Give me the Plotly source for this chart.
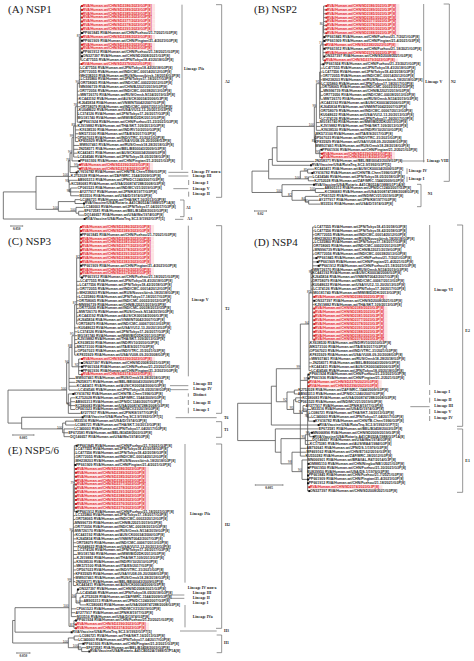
import plotly.graph_objects as go

# ---------- strain names (approximate where blurred) ----------
RED_STRAINS = ["SD2386", "SD2389", "SD2385", "SD2381", "SD2377", "SD2378", "SD2391", "SD2388",
               "SD2383", "SD2376", "SD2379", "SD2390", "SD2374", "SD2392"]
MARKED_STRAINS = ["PP661845 CHN/Fuzhou/21-7/2021", "PP661909 CHN/Pingtan/21-4/2021",
                  "PP661912 CHN/Fuzhou/21-18/2021", "ON327397 CHN/SD2008/2021",
                  "PP661924 CHN/Fuzhou/21-23/2021", "PP661936 CHN/Pingtan/21-2/2021",
                  "KY616782 CHN/TB-Chen/1996", "MN066896 CHN/SD2009/2019",
                  "OM885110 CHN/Ningbo/NB1/2021", "PP661950 CHN/Fuzhou/21-30/2021"]
REF_STRAINS = ["LC477555 JPN/Tokyo18-41/2018", "LC477556 JPN/Tokyo18-42/2018", "OR772055 IND/CMC-00014/2012",
               "MH238203 RUS/Novosibirsk-18/2018", "LC325860 JPN/Tokyo17-18/2017", "OR758065 IND/CMC-00022/2012",
               "MN996739 CHN/BJ2021/2019", "OR772056 IND/CMC-00038/2013", "MW726170 RUS/Omsk-N134/2019",
               "KC443192 AUS/CK00034/2006", "KJ645834 VNM/NT0042/2007", "OR758079 IND/CMC-00067/2013",
               "KU048622 USA/VU12-13-20/2013", "LC374126 JPN/Tokyo17-26/2017", "MG181740 MWI/BID2DK/2013",
               "KJ919882 THA/SKT-109/2013", "KX638530 IND/RV10/2010", "MK573100 ITA/ES/2017",
               "OP567023 IND/VTRC-31/2021", "KF835929 USA/VU08-09-20/2008", "MW937461 RUS/Omsk18-28/2018",
               "JN258371 BEL/BE00043/2009", "KC443411 AUS/CK00034/2006", "LC434546 JPN/Tokyo18-05/2018",
               "KJ752028 ZAF/MRC-1544/2009", "AB905313 JPN/DC1240/2007", "KC580683 USA/2008747288/2008",
               "CP061523 IND/MCV21/2019", "AY277917 JPN/K8/1977", "M33516 USA/D/1974",
               "LC086721 THA/SKT-16/2013", "LC340003 JPN/Tokyo17-04/2017", "EF672581 BEL/B3458/2003",
               "DQ146657 USA/Wa/1974", "KC175381 AUS/WA4/1984", "AB792641 JPN/DS-1/1976",
               "MF469162 CHN/E7162/2016", "KU550282 ZAF/MRC-38/2012", "MN066901 BRA/IAL-R47/2014",
               "EU839950 USA/DS-1/1976", "HQ392151 BEL/BE1058/2008", "MT025877 ECU/Ec2018/2018"]
ROTATEQ = "RVA/Vaccine/USA/RotaTeq-SC2-9/1992/G1P7[5]"
ROTARIX = "RVA/Vaccine/USA/Rotarix-A41CB052A/1988/G1P1A[8]"

# ---------- panel A ----------
A_marks = "rrrrrrr b r b rr bb n r nnnnnnnnnnnnnn b nnnnnnnnn b rr b nnnnnnn X nnn T"
A_tip_depth = [244,244,244,244,244,244,244,244,244,244,244,244,244,244,243,243,240,238,240,241,
               240,240,238,240,236,236,240,236,232,232,240,232,238,236,231,234,238,234,232,232,
               236,238,238,228,212,232,213,232,238,238,240,250,250,252,252,252]
A_tip_parent = [242,242,242,242,242,242,242,242,242,242,242,242,242,242,242,238,238,238,238,238,
                238,238,232,232,232,232,232,232,232,232,232,226,226,226,226,226,221,221,221,221,
                216,234,234,210,205,207.5,207.5,212,212,212,225,225,228,236,236,10]
A_nodes = [(10,108,48,""),(108,205,44,"100"),(108,175,52.5,"100"),(175,225,50.5,""),(175,228,53,"100"),
           (228,236,53.5,""),(205,210,40,"76"),(205,207.5,45.5,"93"),(207.5,212,48,"98"),(210,216,38,"90"),
           (210,234,41.5,"99"),(216,221,34,"99"),(221,226,31,"83"),(226,232,26,"76"),(232,238,20,"90"),
           (238,242,8,"87")]

# ---------- panel B ----------
B_marks = "rrrrrrrr bb r b r b r b nnnnnnnnnnnnnnnnnnnnn b rr n T n b nn X nnnnn"
B_tip_depth = [266,266,266,266,266,266,266,266,260,260,264,260,266,260,262,257,258,256,256,256,
               252,254,258,258,258,252,250,250,250,252,248,250,252,235,231,232,235,252,253,253,
               232,220,232,224,226,231,229,262,263,245,245,250]
B_tip_parent = [260,260,260,260,260,260,260,260,258,258,258,258,258,258,258,250,250,250,250,250,
                250,250,250,250,250,248,248,248,248,248,238,238,238,236,236,236,236,248.5,248.5,248.5,
                120,106,212,212,214,214,135,235,235,205,215,215]
B_nodes = [(45,95,42.5,""),(45,135,48,"100"),(95,106,39.5,""),(95,190,44.5,"100"),(106,120,36.5,""),
           (120,232,31,"100"),(232,238,26,"99"),(232,236,35,"87"),(236,248.5,38,"95"),(238,248,20,"91"),
           (248,250,17,""),(250,258,10,"74"),(258,260,5,"80"),(190,212,42.5,"85"),(190,214,44.5,"95"),
           (135,165,49,"82"),(165,235,47.5,"100"),(165,205,50,"84"),(205,215,50.5,"80")]

# ---------- panel C ----------
C_marks = "rr b rrrrrrr b rr b nnnnnnnnnnnnnnnnnnnn r bbb r nnnn b nnnnn T nnnnn"
C_tip_depth = [241,241,241,241,241,241,241,241,241,241,241,241,241,244,240,238,238,238,236,236,
               236,236,236,236,234,234,234,232,232,232,232,230,232,230,244,244,244,244,244,226,
               226,230,234,218,226,225,225,225,240,246,222,225,222,205,210]
C_tip_parent = [240,240,240,240,240,240,240,240,240,240,240,240,240,240,230,230,230,230,230,230,
                230,230,230,230,230,230,224,224,224,224,224,224,224,224,236,236,236,236,236,207,
                207,207,207,205,212,212,212,212,205,65,197,197,192,192,192]
C_nodes = [(24,200,42,"100"),(24,65,50.5,""),(65,188,52,"100"),(188,197,50.5,""),(188,192,53,""),
           (200,207,35,"96"),(200,205,45.5,""),(205,212,46,"94"),(207,216,31,"88"),(216,222,28,"95"),
           (216,236,36,"92"),(222,224,26,""),(224,230,20,"87"),(230,240,8,"82")]

# ---------- panel D ----------
D_marks = "nnnnnnnn bbb nnnnnnn r b n rrrrrrrrr nnnnnnnn bb rr nnnnnnnn b T n b X nnnnnn bb n bbb r b"
D_tip_depth = [232,232,232,232,232,228,232,232,236,240,243,228,225,225,225,225,228,228,230,230,
               232,230,230,230,230,230,230,230,230,230,218,218,218,218,222,225,222,222,213,213,
               213,213,183,182,195,182,205,222,214,222,230,243,245,223,228,225,218,208,208,205,
               212,213,213,210,211,211,211,215,215]
D_tip_parent = [227,227,227,227,227,227,227,227,227,227,227,222,222,222,222,222,222,222,227,227,
                227,227,227,227,227,227,227,227,227,227,216,216,216,216,216,216,216,216,212,212,
                212,212,172,172,176,176,198,210,214,214,214,103,115,218,218,205,205,190,190,190,
                195,212,212,212,212,212,212,212,212]
D_nodes = [(2,103,45.4,""),(2,115,55,""),(103,118,41,""),(118,190,36.5,"99"),(118,150,45,"92"),(150,172,42.5,""),
           (150,170,47,"95"),(170,176,44.5,""),(170,198,48,"94"),(198,210,47.5,"86"),(210,214,49,"76"),
           (190,212,39.5,"97"),(190,216,25,"94"),(216,222,17,"85"),(222,227,12,"93"),
           (115,132,58,""),(132,205,54.5,"95"),(205,218,53.5,"98"),(132,165,61,"98"),(165,190,58,""),
           (165,195,63,"90"),(195,212,65,"")]

# ---------- panel E ----------
E_marks = "b nnnn b rrrrrrrrrrr b nnnnnnnnnnnnnnnnnnn b nnnnnnn b rr T nn b n X"
E_tip_depth = [228,226,226,226,226,224,226,226,226,226,226,226,226,226,226,226,226,228,226,226,
               224,224,224,226,228,228,232,232,232,230,228,228,228,226,226,226,228,232,240,245,
               250,258,228,226,230,226,226,226,213,238,234,248,258,266]
E_tip_parent = [223,223,223,223,223,223,223,223,223,223,223,223,223,223,223,223,223,223,220,220,
                220,220,220,220,220,220,220,220,220,220,220,220,220,220,220,220,220,232,232,240,
                240,240,214,214,214,222,222,222,45,222.5,222.5,235,245,245]
E_nodes = [(38,45,45,""),(38,205,50.8,"100"),(45,207,41.7,"100"),(207,214,35,"99"),(207,222,46.5,"87"),
           (214,220,22,"90"),(220,223,10,"79"),(214,228,39,"96"),(228,232,38,""),(228,240,40.5,"94"),
           (205,222.5,49.5,""),(205,235,52,"100"),(235,245,52.5,"99")]

PANELS = [
    dict(marks=A_marks, depth=A_tip_depth, parent=A_tip_parent, nodes=A_nodes, col=0, y0=6.0, step=3.873),
    dict(marks=B_marks, depth=B_tip_depth, parent=B_tip_parent, nodes=B_nodes, col=1, y0=6.0, step=3.885),
    dict(marks=C_marks, depth=C_tip_depth, parent=C_tip_parent, nodes=C_nodes, col=0, y0=227.0, step=3.883),
    dict(marks=D_marks, depth=D_tip_depth, parent=D_tip_parent, nodes=D_nodes, col=1, y0=227.0, step=3.883),
    dict(marks=E_marks, depth=E_tip_depth, parent=E_tip_parent, nodes=E_nodes, col=0, y0=445.67, step=3.885),
]

W, H = 474, 661
TXT = "Liberation Sans"
SERIF = "Liberation Serif"
INK = "#2a2a2a"
RED = "#e3262b"
LINE = "#555555"
CHAR = 6.15   # depth units per character, for the pink halo behind the red rows

fig = go.Figure()
layout = {}

def label_for(mark, counters):
    if mark == "r":
        s = RED_STRAINS[counters["r"] % len(RED_STRAINS)]; counters["r"] += 1
        return f"RVA/Human-wt/CHN/{s}/2023/G3P[8]"
    if mark == "T":
        return ROTATEQ
    if mark == "X":
        return ROTARIX
    pool = MARKED_STRAINS if mark == "b" else REF_STRAINS
    s = pool[counters[mark] % len(pool)]; counters[mark] += 1
    acc, rest = s.split(" ")
    return f"{acc} RVA/Human-wt/{rest}/G3P[8]"

for idx, p in enumerate(PANELS):
    ax = idx + 1
    xname, yname = f"x{ax if ax > 1 else ''}", f"y{ax if ax > 1 else ''}"
    marks = p["marks"].replace(" ", "")
    n = len(marks)
    assert n == len(p["depth"]) == len(p["parent"]), (idx, n, len(p["depth"]), len(p["parent"]))
    top, bot = p["y0"] - p["step"], p["y0"] + n * p["step"]
    layout["xaxis" + (str(ax) if ax > 1 else "")] = dict(
        domain=[0, 0.5] if p["col"] == 0 else [0.5, 1], range=[0, 711], visible=False, anchor=yname)
    layout["yaxis" + (str(ax) if ax > 1 else "")] = dict(
        domain=[1 - bot / H, 1 - top / H], range=[n, -1], visible=False, anchor=xname)

    counters = {"r": 0, "b": 0, "n": 0}
    labels = [label_for(m, counters) for m in marks]

    # pink halo behind red rows
    hx, hy = [], []
    for i, m in enumerate(marks):
        if m == "r":
            hx += [p["depth"][i] + 5, p["depth"][i] + 6 + len(labels[i]) * CHAR, None]
            hy += [i, i, None]
    fig.add_trace(go.Scatter(x=hx, y=hy, mode="lines", xaxis=xname, yaxis=yname, hoverinfo="skip",
                             line=dict(color="#fde3e3", width=3.9), showlegend=False))

    # tree edges
    lx, ly = [], []
    children = {}
    for i, (par, d) in enumerate(zip(p["parent"], p["depth"])):
        lx += [par, d, None]; ly += [i, i, None]
        children.setdefault(par, []).append(i)
    for par, d, row, _ in p["nodes"]:
        lx += [par, d, None]; ly += [row, row, None]
        children.setdefault(par, []).append(row)
    for d, rows in children.items():
        lx += [d, d, None]; ly += [min(rows), max(rows), None]
    fig.add_trace(go.Scatter(x=lx, y=ly, mode="lines", xaxis=xname, yaxis=yname, hoverinfo="skip",
                             line=dict(color=LINE, width=0.8), showlegend=False))

    # tip markers
    for kind, colour in (("r", "#c81e1e"), ("k", "#111111")):
        mx, my = [], []
        for i, m in enumerate(marks):
            if (m == "r") == (kind == "r") and m != "n":
                mx.append(p["depth"][i] + 2); my.append(i)
        fig.add_trace(go.Scatter(x=mx, y=my, mode="markers", xaxis=xname, yaxis=yname, hoverinfo="skip",
                                 marker=dict(symbol="square", size=2, color=colour, line=dict(width=0)),
                                 showlegend=False))

    # tip labels
    for kind, colour in (("r", RED), ("k", INK)):
        tx, ty, tt = [], [], []
        for i, m in enumerate(marks):
            if (m == "r") == (kind == "r"):
                tx.append(p["depth"][i] + (4 if m != "n" else 0.5)); ty.append(i); tt.append(labels[i])
        fig.add_trace(go.Scatter(x=tx, y=ty, text=tt, mode="text", textposition="middle right",
                                 xaxis=xname, yaxis=yname, hoverinfo="skip", cliponaxis=False,
                                 textfont=dict(family=TXT, size=3.55, color=colour, weight="bold"),
                                 showlegend=False))

    # bootstrap support
    sx, sy, st = [], [], []
    for par, d, row, s in p["nodes"]:
        if s:
            sx.append(d - 1); sy.append(row - 0.3); st.append(s)
    fig.add_trace(go.Scatter(x=sx, y=sy, text=st, mode="text", textposition="middle left",
                             xaxis=xname, yaxis=yname, hoverinfo="skip", cliponaxis=False,
                             textfont=dict(family=TXT, size=3.2, color="#222222"), showlegend=False))

# ---------- overlay: titles, brackets, lineage names, scale bars ----------
layout["xaxis6"] = dict(domain=[0, 1], range=[0, W], visible=False, anchor="y6")
layout["yaxis6"] = dict(domain=[0, 1], range=[H, 0], visible=False, anchor="x6")

def bracket(x, y0, y1, tick):
    return [(tick, y0, x, y0), (x, y0, x, y1), (x, y1, tick, y1)]

def vbar(x, y0, y1):
    return [(x, y0, x, y1)]

DECOR = [
    dict(o=(0, 0), lines=vbar(546, 14, 510) + bracket(665, 14, 592, 648) + bracket(552, 600, 650, 540)
         + [(505, 517, 565, 517), (505, 528, 565, 528), (520, 566, 565, 566), (525, 658, 550, 658)]
         + vbar(566, 540, 555) + vbar(566, 575, 590),
         texts=[(552, 207, "Lineage IVa"), (575, 517, "Lineage IV non-a"), (578, 529, "Lineage III"),
                (578, 550, "Lineage I"), (578, 567, "Lineage V"), (578, 582, "Lineage II"),
                (675, 245, "A2"), (558, 625, "A1"), (562, 658, "A3")]),
    dict(o=(237, 0), lines=vbar(560, 12, 487) + bracket(637, 12, 544, 620) + bracket(552, 553, 620, 540)
         + [(490, 483, 563, 483)] + vbar(510, 505, 522) + vbar(510, 530, 546),
         texts=[(565, 245, "Lineage V"), (642, 245, "N2"), (570, 483, "Lineage VIII"),
                (515, 513, "Lineage IV"), (515, 538, "Lineage I"), (572, 583, "N1")]),
    dict(o=(0, 215), lines=vbar(565, 32, 484) + bracket(665, 32, 595, 648) + bracket(665, 620, 667, 648)
         + [(510, 512, 565, 512), (510, 524, 565, 524), (527, 608, 650, 608)]
         + vbar(565, 535, 545) + vbar(565, 555, 570) + vbar(565, 578, 595),
         texts=[(575, 255, "Lineage V"), (675, 283, "T2"), (580, 508, "Lineage III"), (580, 523, "Lineage IV"),
                (580, 540, "Distinct"), (580, 563, "Lineage II"), (580, 585, "Lineage I"),
                (672, 608, "T6"), (672, 645, "T1")]),
    dict(o=(237, 215), lines=vbar(578, 30, 510) + bracket(677, 30, 634, 660) + bracket(677, 642, 832, 660)
         + [(520, 575, 578, 575)] + vbar(578, 525, 540) + vbar(578, 548, 563) + vbar(578, 582, 597) + vbar(578, 603, 618),
         texts=[(592, 224, "Lineage VI"), (685, 348, "E2"), (592, 532, "Lineage I"), (592, 555, "Lineage II"),
                (592, 574, "Lineage III"), (592, 590, "Lineage V"), (592, 610, "Lineage IV"), (685, 737, "E1")]),
    dict(o=(0, 430), lines=vbar(555, 42, 458) + bracket(665, 42, 595, 648) + bracket(665, 615, 668, 650)
         + [(497, 495, 553, 495), (497, 505, 553, 505), (540, 603, 650, 603)] + vbar(555, 525, 592),
         texts=[(570, 252, "Lineage IVa"), (675, 285, "H2"), (563, 473, "Lineage IV non-a"), (578, 488, "Lineage III"),
                (578, 503, "Lineage II"), (578, 518, "Lineage I"), (578, 562, "Lineage IVa"),
                (672, 603, "H3"), (672, 640, "H1")]),
]
TITLES = [(8, 10, "(A) NSP1"), (254, 10, "(B) NSP2"), (8, 242, "(C) NSP3"), (254, 243, "(D) NSP4"), (8, 451, "(E) NSP5/6")]
SCALES = [(10.7, 22.7, 226, "0.050"), (254.5, 266.5, 211, "0.02"), (12.7, 34, 435, "0.005"),
          (255.3, 283, 485, "0.005"), (16.7, 30, 653, "0.050")]

gx, gy = [], []
tx, ty, tt = [], [], []
for d in DECOR:
    ox, oy = d["o"]
    for x0, y0, x1, y1 in d["lines"]:
        gx += [ox + x0 / 3, ox + x1 / 3, None]; gy += [oy + y0 / 3, oy + y1 / 3, None]
    for x, y, s in d["texts"]:
        tx.append(ox + x / 3); ty.append(oy + y / 3); tt.append(s)
fig.add_trace(go.Scatter(x=gx, y=gy, mode="lines", xaxis="x6", yaxis="y6", hoverinfo="skip",
                         line=dict(color="#6a6a6a", width=0.7), showlegend=False))
fig.add_trace(go.Scatter(x=tx, y=ty, text=tt, mode="text", textposition="middle right", xaxis="x6", yaxis="y6",
                         hoverinfo="skip", cliponaxis=False, showlegend=False,
                         textfont=dict(family=SERIF, size=3.9, color="#222222", weight="bold")))
fig.add_trace(go.Scatter(x=[t[0] for t in TITLES], y=[t[1] for t in TITLES], text=[t[2] for t in TITLES],
                         mode="text", textposition="middle right", xaxis="x6", yaxis="y6", hoverinfo="skip",
                         cliponaxis=False, showlegend=False,
                         textfont=dict(family=SERIF, size=11, color="#1a1a1a")))
bx, by, sx, sy, st = [], [], [], [], []
for x0, x1, y, s in SCALES:
    bx += [x0, x1, None, x0, x0, None, x1, x1, None]
    by += [y, y, None, y - 0.6, y + 0.6, None, y - 0.6, y + 0.6, None]
    sx.append((x0 + x1) / 2); sy.append(y + 3.4); st.append(s)
fig.add_trace(go.Scatter(x=bx, y=by, mode="lines", xaxis="x6", yaxis="y6", hoverinfo="skip",
                         line=dict(color="#555555", width=0.7), showlegend=False))
fig.add_trace(go.Scatter(x=sx, y=sy, text=st, mode="text", textposition="middle center", xaxis="x6", yaxis="y6",
                         hoverinfo="skip", cliponaxis=False, showlegend=False,
                         textfont=dict(family=SERIF, size=3.4, color="#222222", weight="bold")))

fig.update_layout(width=W, height=H, margin=dict(l=0, r=0, t=0, b=0), paper_bgcolor="white",
                  plot_bgcolor="rgba(0,0,0,0)", showlegend=False, **layout)
fig.write_html("out.html", config={"displayModeBar": False},
               post_script="document.body.style.margin='0';document.body.style.overflow='hidden';")
